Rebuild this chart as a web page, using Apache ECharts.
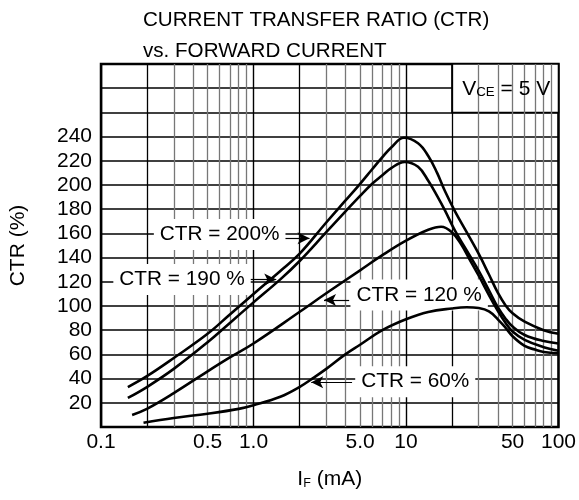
<!DOCTYPE html>
<html>
<head>
<meta charset="utf-8">
<script src="https://cdn.jsdelivr.net/npm/echarts@6/dist/echarts.min.js"></script>
<style>html,body{margin:0;padding:0;background:#fff}#c{width:579px;height:500px}</style>
</head>
<body>
<div id="c"></div>
<script>
// ---- data ----
const xTickValues = [0.1, 0.5, 1, 5, 10, 50, 100];
const xTickText = ['0.1', '0.5', '1.0', '5.0', '10', '50', '100'];
const yTickValues = [20, 40, 60, 80, 100, 120, 140, 160, 180, 200, 220, 240];
const minorDark = [0.2, 2, 20];
const minorLight = [0.3, 0.4, 0.5, 0.6, 0.7, 0.8, 0.9, 3, 4, 5, 6, 7, 8, 9, 30, 40, 50, 60, 70, 80, 90];

const ctr200 = [[0.15,33],[0.2,42],[0.3,57],[0.5,77],[0.7,93],[1,110],[1.5,129],[2,143],[3,169],[4,187],[5,201],[6,213],[7,223],[8,231],[9.7,239],[12,234.5],[14,224],[16,210],[18,195],[21,178],[25,161],[30,143],[35,126],[40,111],[45,100.5],[50,94],[60,87],[80,80],[100,77]];
const ctr190 = [[0.15,24],[0.2,33],[0.3,48],[0.5,70],[0.7,86],[1,103],[1.5,122],[2,137],[3,161],[4,178],[5,191],[6,201],[7,208],[8,214],[9.8,219],[12,215],[14,203.5],[16,191],[18,179],[21,162],[25,146],[30,129],[35,113],[40,99],[45,89.5],[50,83],[60,76],[80,71],[100,69]];
const ctr120 = [[0.16,10],[0.2,15],[0.3,28],[0.5,46],[0.7,57.5],[1,69],[2,95],[3,110.5],[5,129.5],[7,142],[10,154],[14,163],[17,165.5],[20,161],[23,151],[26,139],[30,125],[35,109],[40,96],[45,86],[50,79],[60,72],[80,66],[100,63]];
const ctr60 = [[0.19,3.5],[0.3,7.5],[0.5,11],[0.8,15],[1,18],[1.5,25],[2,33],[2.5,41],[3,48],[4,60],[5,68],[7,80],[10,89],[14,95],[20,98],[25,99],[30,98.3],[35,95.5],[40,89],[45,82],[50,75],[60,67],[70,64],[80,62],[100,61]];

// annotation labels: text, anchor [x, y]
const labelText = ['CTR = 200%', 'CTR = 190 %', 'CTR = 120 %', 'CTR = 60%'];
const labelAt = [[0.6, 159], [0.34, 122], [12.2, 109], [11.5, 37.5]];
// arrows: [from, to]
const arrows = [
  [[1.6, 156], [2.33, 156]],
  [[0.95, 122], [1.41, 122]],
  [[4.24, 105], [2.9, 105]],
  [[4.43, 37], [2.39, 37]]
];
const vceBox = [[20, 260], [100, 300]];

const FONT = 'Liberation Sans, Arial, Helvetica, sans-serif';
const chart = echarts.init(document.getElementById('c'), null, {renderer: 'canvas'});

function curve(data) {
  return {
    type: 'line', data: data, smooth: 0.4, symbol: 'none', z: 5,
    lineStyle: {color: '#000', width: 2.6}, silent: true
  };
}

const option = {
  backgroundColor: '#fff',
  animation: false,
  title: {
    text: 'CURRENT TRANSFER RATIO (CTR)\nvs. FORWARD CURRENT',
    left: 143, top: 4.5, padding: 0,
    textStyle: {fontFamily: FONT, fontSize: 20.6, fontWeight: 'normal', color: '#000', lineHeight: 31.5}
  },
  grid: {left: 99.5, right: 17.3, top: 64, bottom: 73, show: true, borderColor: '#000', borderWidth: 2.5, backgroundColor: 'transparent'},
  xAxis: {
    type: 'log', logBase: 10, min: 0.1, max: 100,
    axisLine: {show: false}, axisTick: {show: false},
    splitLine: {show: true, lineStyle: {color: '#000', width: 1.4}},
    minorTick: {show: false}, minorSplitLine: {show: false},
    axisLabel: {
      customValues: xTickValues,
      formatter: function (v) { const i = xTickValues.findIndex(t => Math.abs(t - v) / t < 1e-6); return i >= 0 ? xTickText[i] : ''; },
      fontFamily: FONT, fontSize: 21, color: '#000', margin: 5
    },
    name: '{a|I}{b|F}{a| (mA)}', nameLocation: 'middle', nameGap: 42,
    nameTextStyle: {rich: {a: {fontFamily: FONT, fontSize: 21, color: '#000'}, b: {fontFamily: FONT, fontSize: 12.5, color: '#000', verticalAlign: 'bottom', padding: [6, 0, 0, 0]}}}
  },
  yAxis: {
    type: 'value', min: 0, max: 300, interval: 20,
    axisLine: {show: false}, axisTick: {show: false},
    splitLine: {show: true, lineStyle: {color: '#000', width: 1.5}},
    axisLabel: {
      formatter: function (v) { return yTickValues.indexOf(v) >= 0 ? String(v) : ''; },
      fontFamily: FONT, fontSize: 21, color: '#000', margin: 9
    },
    name: 'CTR (%)', nameLocation: 'middle', nameGap: 72, nameRotate: 90,
    nameTextStyle: {fontFamily: FONT, fontSize: 21, color: '#000'}
  },
  series: [
    {
      type: 'line', data: [], z: 1, silent: true,
      markLine: {
        silent: true, symbol: 'none', animation: false,
        label: {show: false},
        data: minorLight.map(v => ({xAxis: v, lineStyle: {color: '#777', width: 1.3, type: 'solid'}}))
          .concat(minorDark.map(v => ({xAxis: v, lineStyle: {color: '#000', width: 1.3, type: 'solid'}})))
      }
    },
    {
      type: 'line', data: [], z: 2, silent: true,
      markArea: {
        silent: true,
        itemStyle: {color: '#fff', opacity: 1, borderColor: '#000', borderWidth: 1.5},
        label: {show: false},
        data: [[{coord: vceBox[0]}, {coord: vceBox[1]}]]
      }
    },
    {
      type: 'line', data: [], z: 3, silent: true,
      markPoint: {
        silent: true, symbol: 'rect', symbolSize: 0,
        label: {
          show: true, position: 'inside', color: '#000', fontFamily: FONT, fontSize: 20.8,
          backgroundColor: '#fff', padding: [5, 6]
        },
        data: labelText.map((t, i) => ({coord: labelAt[i], value: t, label: {formatter: t}}))
      },
      markLine: {
        silent: true, symbol: ['none', 'arrow'], symbolSize: [9, 12], animation: false,
        label: {show: false},
        lineStyle: {color: '#000', width: 1.2, type: 'solid'},
        data: arrows.map(a => [{coord: a[0]}, {coord: a[1]}])
      }
    },
    curve(ctr200), curve(ctr190), curve(ctr120), curve(ctr60)
  ],
  graphic: []
};
chart.setOption(option);

// V_CE label placed at the box center via the axis scales
function placeVce() {
  const p0 = chart.convertToPixel({gridIndex: 0}, vceBox[0]);
  const p1 = chart.convertToPixel({gridIndex: 0}, vceBox[1]);
  chart.setOption({graphic: [{
    type: 'text', z: 10, x: (p0[0] + p1[0]) / 2 + 1, y: (p0[1] + p1[1]) / 2 + 1,
    style: {
      text: '{a|V}{b|CE}{a| = 5 V}', align: 'center', verticalAlign: 'middle',
      rich: {a: {fontFamily: FONT, fontSize: 21, fill: '#000'}, b: {fontFamily: FONT, fontSize: 13.3, fill: '#000', padding: [6, 0, 0, 0]}}
    }
  }]});
}
placeVce();
</script>
</body>
</html>
